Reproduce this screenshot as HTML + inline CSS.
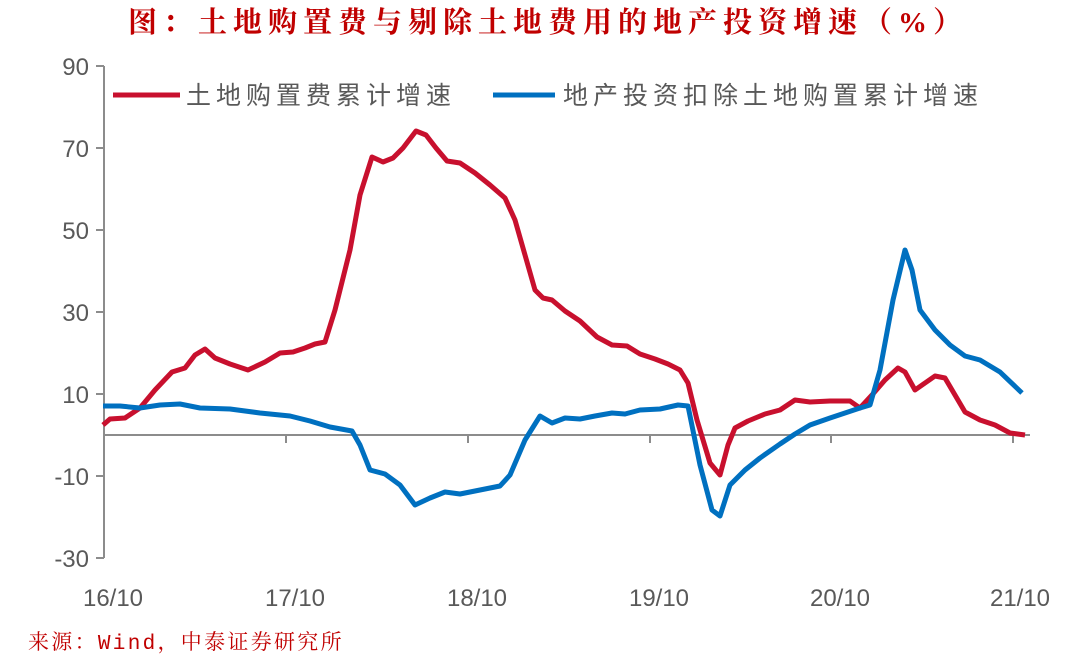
<!DOCTYPE html>
<html><head><meta charset="utf-8"><style>
body{margin:0;background:#fff;width:1067px;height:662px;overflow:hidden}
svg text{font-family:"Liberation Sans","Noto Sans CJK SC",sans-serif}
</style></head><body>
<svg width="1067" height="662" viewBox="0 0 1067 662">
<text x="128" y="32" font-size="29" letter-spacing="6" font-weight="bold" fill="#c00000" style='font-family:"Liberation Serif","Noto Serif CJK SC",serif'>图：土地购置费与剔除土地费用的地产投资增速（%）</text>
<g stroke="#8c8c8c" stroke-width="2" fill="none">
<line x1="104" y1="66" x2="104" y2="558"/>
<line x1="104" y1="435" x2="1030" y2="435"/>
<line x1="96" y1="66" x2="104" y2="66"/><line x1="96" y1="148" x2="104" y2="148"/><line x1="96" y1="230" x2="104" y2="230"/><line x1="96" y1="312" x2="104" y2="312"/><line x1="96" y1="394" x2="104" y2="394"/><line x1="96" y1="476" x2="104" y2="476"/><line x1="96" y1="558" x2="104" y2="558"/>
<line x1="286" y1="435" x2="286" y2="443"/><line x1="468" y1="435" x2="468" y2="443"/><line x1="650" y1="435" x2="650" y2="443"/><line x1="831" y1="435" x2="831" y2="443"/><line x1="1013" y1="435" x2="1013" y2="443"/>
</g>
<g font-size="24" fill="#595959" text-anchor="end">
<text x="89" y="75">90</text><text x="89" y="157">70</text><text x="89" y="239">50</text><text x="89" y="321">30</text><text x="89" y="403">10</text><text x="89" y="485">-10</text><text x="89" y="567">-30</text>
</g>
<g font-size="24" fill="#595959" text-anchor="middle">
<text x="113" y="606">16/10</text><text x="295" y="606">17/10</text><text x="477" y="606">18/10</text><text x="659" y="606">19/10</text><text x="840" y="606">20/10</text><text x="1020" y="606">21/10</text>
</g>
<line x1="113" y1="95" x2="180" y2="95" stroke="#c8102e" stroke-width="5"/>
<text x="186" y="104" font-size="25" letter-spacing="5" fill="#595959">土地购置费累计增速</text>
<line x1="493" y1="95" x2="555" y2="95" stroke="#0070c0" stroke-width="5"/>
<text x="563" y="104" font-size="25" letter-spacing="5" fill="#595959">地产投资扣除土地购置累计增速</text>
<polyline fill="none" stroke="#c8102e" stroke-width="5" stroke-linejoin="round" points="103,425 110,419 125,418 140,408 155,390 172,372 185,368 195,355 205,349 215,358 230,364 248,370 265,362 280,353 293,352 305,348 315,344 325,342 335,310 350,250 360,195 372,157 383,162 393,158 403,148 416,131 426,135 436,148 447,161 460,163 475,173 490,185 505,198 515,220 525,255 535,290 543,298 552,300 565,311 580,321 597,337 612,345 627,346 640,354 655,359 668,364 680,370 688,383 697,420 710,463 720,475 728,445 735,428 748,421 765,414 780,410 795,400 810,402 830,401 850,401 860,408 872,395 885,380 898,368 905,372 915,390 925,383 935,376 945,378 955,395 965,412 980,420 995,425 1010,433 1025,435"/>
<polyline fill="none" stroke="#0070c0" stroke-width="5" stroke-linejoin="round" points="103,406 120,406 140,408 160,405 180,404 200,408 230,409 260,413 290,416 310,421 330,427 352,431 360,445 370,470 385,474 400,485 415,505 430,498 445,492 460,494 480,490 500,486 510,475 525,440 540,416 552,423 565,418 580,419 595,416 612,413 625,414 640,410 660,409 678,405 688,406 700,465 712,510 720,516 730,485 745,470 760,458 780,444 795,434 810,425 830,418 845,413 860,408 870,405 880,370 893,300 905,250 912,270 920,310 935,330 950,345 965,356 980,360 1000,372 1022,393"/>
<text x="28" y="649" font-size="21" letter-spacing="2.3" fill="#c00000" style='font-family:"Liberation Mono","Noto Serif CJK SC",serif'>来源：Wind，中泰证券研究所</text>
</svg>
</body></html>
